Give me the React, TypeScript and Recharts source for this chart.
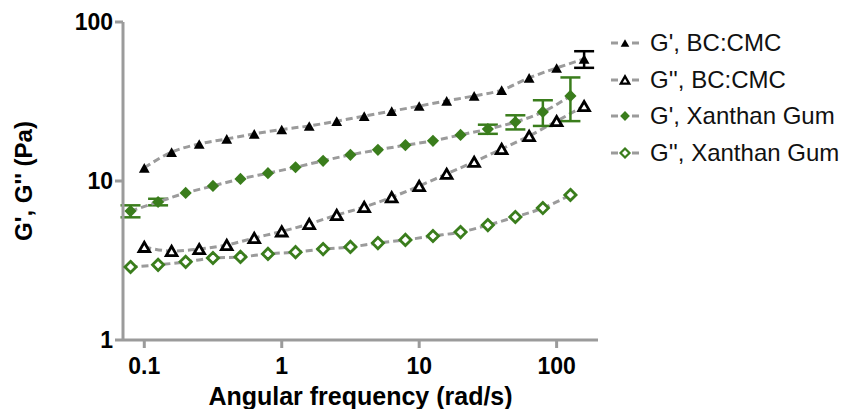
import { LineChart, Line, XAxis, YAxis, ErrorBar, Legend } from 'recharts';

// angular frequency (rad/s)
const bcFreq = [0.1, 0.158, 0.251, 0.398, 0.631, 1, 1.585, 2.512, 3.981, 6.31, 10, 15.85, 25.12, 39.81, 63.1, 100, 158.5];
const xgFreq = [0.0794, 0.126, 0.2, 0.316, 0.501, 0.794, 1.26, 2.0, 3.16, 5.01, 7.94, 12.6, 20, 31.6, 50.1, 79.4, 126];

// moduli (Pa)
const bcStorage = [12.1, 15.2, 17.1, 18.4, 19.8, 21.1, 22.2, 23.8, 25.6, 27.5, 29.6, 31.9, 34.3, 37.3, 44.5, 51.4, 58.5];
const bcStorageErr = [0, 0, 0, 0, 0, 0, 0, 0, 0, 0, 0, 0, 0, 0, 0, 0, 7];
const bcLoss = [3.85, 3.63, 3.73, 3.96, 4.38, 4.82, 5.37, 6.11, 6.86, 7.9, 9.3, 11.1, 13.2, 15.9, 19.2, 23.8, 29.6];
const xgStorage = [6.47, 7.38, 8.41, 9.31, 10.3, 11.2, 12.2, 13.4, 14.6, 15.7, 16.8, 17.9, 19.5, 21.2, 23.5, 27.2, 34.3];
const xgStorageErr = [0.56, 0.35, 0, 0, 0, 0, 0, 0, 0, 0, 0, 0, 0, 1.4, 2.4, 5, 10.5];
const xgLoss = [2.88, 2.97, 3.1, 3.28, 3.33, 3.48, 3.57, 3.73, 3.85, 4.07, 4.26, 4.51, 4.77, 5.28, 5.94, 6.76, 8.17];

const seriesNames = ["G', BC:CMC", "G'', BC:CMC", "G', Xanthan Gum", "G'', Xanthan Gum"];
const xTicks = [0.1, 1, 10, 100];
const yTicks = [1, 10, 100];

const toRows = (f: number[], v: number[], e?: number[]) =>
  f.map((x, i) => ({ f: x, v: v[i], err: e ? e[i] : 0 }));

const GREEN = '#3a7d1c';
const LINE = '#9b9b9b';
const FONT = '"Liberation Sans", Arial, sans-serif';

type Kind = 'triFill' | 'triOpen' | 'diaFill' | 'diaOpen';

const Marker = ({ kind, cx, cy, s = 1 }: { kind: Kind; cx: number; cy: number; s?: number }) => {
  if (kind === 'triFill') {
    const w = 5.4 * s, h = 4.8 * s;
    return <polygon points={`${cx - w},${cy + h} ${cx + w},${cy + h} ${cx},${cy - h}`} fill="#000" />;
  }
  if (kind === 'triOpen') {
    const w = 5.3 * s, h = 4.6 * s;
    return (
      <polygon
        points={`${cx - w},${cy + h} ${cx + w},${cy + h} ${cx},${cy - h}`}
        fill="#fff"
        stroke="#000"
        strokeWidth={2.8 * s}
      />
    );
  }
  if (kind === 'diaFill') {
    const r = 6.1 * s;
    return <polygon points={`${cx},${cy - r} ${cx + r},${cy} ${cx},${cy + r} ${cx - r},${cy}`} fill={GREEN} />;
  }
  const r = 5.6 * s;
  return (
    <polygon
      points={`${cx},${cy - r} ${cx + r},${cy} ${cx},${cy + r} ${cx - r},${cy}`}
      fill="#fff"
      stroke={GREEN}
      strokeWidth={2.8 * s}
    />
  );
};

const dotFor = (kind: Kind) => (p: any) =>
  <Marker key={`${kind}-${p.index}`} kind={kind} cx={p.cx} cy={p.cy} />;

const kinds: Kind[] = ['triFill', 'triOpen', 'diaFill', 'diaOpen'];

const LegendBox = () => (
  <div style={{ fontFamily: FONT, fontSize: 24, color: '#111', width: 240 }}>
    {seriesNames.map((name, i) => (
      <div key={name} style={{ display: 'flex', alignItems: 'center', height: 36.5 }}>
        <svg width={40} height={20} style={{ marginRight: 2 }}>
          <line x1={3} y1={10} x2={10} y2={10} stroke={LINE} strokeWidth={3} />
          <line x1={24} y1={10} x2={31} y2={10} stroke={LINE} strokeWidth={3} />
          <Marker kind={kinds[i]} cx={17} cy={10} s={0.8} />
        </svg>
        <span style={{ whiteSpace: 'nowrap' }}>{name}</span>
      </div>
    ))}
  </div>
);

const tickStyle = { fontFamily: FONT, fontSize: 23, fontWeight: 700, fill: '#000' };

export default function App() {
  const series = [
    { data: toRows(bcFreq, bcStorage, bcStorageErr), kind: 'triFill' as Kind, err: '#000' },
    { data: toRows(bcFreq, bcLoss), kind: 'triOpen' as Kind, err: '#000' },
    { data: toRows(xgFreq, xgStorage, xgStorageErr), kind: 'diaFill' as Kind, err: GREEN },
    { data: toRows(xgFreq, xgLoss), kind: 'diaOpen' as Kind, err: GREEN },
  ];

  return (
    <div style={{ position: 'absolute', left: 0, top: 0, background: '#fff' }}>
      <LineChart width={848} height={409} margin={{ top: 22, right: 10, left: 0, bottom: 0 }}>
        <XAxis
          dataKey="f"
          type="number"
          scale="log"
          domain={[0.07, 200]}
          ticks={xTicks}
          allowDataOverflow
          height={69}
          tickFormatter={(v) => String(v)}
          tick={tickStyle}
          tickSize={8}
          tickMargin={10}
          axisLine={{ stroke: LINE, strokeWidth: 3 }}
          tickLine={{ stroke: LINE, strokeWidth: 3 }}
          label={() => (
            <text x={360.5} y={405} textAnchor="middle" fontFamily={FONT} fontSize={25} fontWeight={700} fill="#000">
              Angular frequency (rad/s)
            </text>
          )}
        />
        <YAxis
          type="number"
          scale="log"
          domain={[1, 100]}
          ticks={yTicks}
          allowDataOverflow
          width={123}
          tick={tickStyle}
          tickSize={8}
          tickMargin={2}
          axisLine={{ stroke: LINE, strokeWidth: 3 }}
          tickLine={{ stroke: LINE, strokeWidth: 3 }}
          label={() => (
            <text
              transform="translate(32,181) rotate(-90)"
              textAnchor="middle"
              fontFamily={FONT}
              fontSize={24}
              fontWeight={700}
              fill="#000"
            >
              G', G'' (Pa)
            </text>
          )}
        />
        <Legend
          layout="vertical"
          verticalAlign="top"
          align="right"
          wrapperStyle={{ left: 608, top: 25, width: 240 }}
          content={() => <LegendBox />}
        />
        {series.map((s, i) => (
          <Line
            key={seriesNames[i]}
            name={seriesNames[i]}
            data={s.data}
            dataKey="v"
            type="monotone"
            stroke={LINE}
            strokeWidth={3}
            strokeDasharray="7 4"
            dot={dotFor(s.kind)}
            activeDot={false}
            isAnimationActive={false}
          >
            <ErrorBar dataKey="err" direction="y" width={10} strokeWidth={2.5} stroke={s.err} />
          </Line>
        ))}
      </LineChart>
    </div>
  );
}
